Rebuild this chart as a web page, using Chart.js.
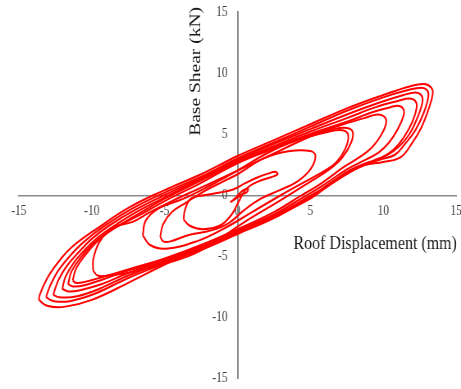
<!DOCTYPE html>
<html>
<head>
<meta charset="utf-8">
<script src="https://cdn.jsdelivr.net/npm/chart.js@4.4.0/dist/chart.umd.min.js"></script>
<style>
  html, body { margin: 0; padding: 0; background: #fff; overflow: hidden; }
  #wrap { width: 461px; height: 389px; overflow: hidden; position: relative; }
  #plot { position: absolute; left: 0; top: 0; width: 562px; height: 389px;
          transform: scaleX(0.8203); transform-origin: 0 0; }
</style>
</head>
<body>
<div id="wrap"><canvas id="plot" width="562" height="389"></canvas></div>
<script>
// Hysteresis record: roof displacement (mm) vs base shear (kN), one array per cycle.
const xTitle = 'Roof Displacement (mm)';
const yTitle = 'Base Shear (kN)';
const xTicks = [-15, -10, -5, 0, 5, 10, 15];
const yTicks = [-15, -10, -5, 0, 5, 10, 15];

const cycle01 = [[-0.5,-0.6],[-0.25,-0.35],[0.05,0.0],[0.4,0.4],[0.72,0.5],[0.65,0.25],[0.3,0.05],[0.0,-0.2],[-0.3,-0.45],[-0.5,-0.6]];

const cycle02 = [[-3.7,-2.0],[-3.6,-1.2],[-3.2,-0.3],[-2.2,0.0],[-1.2,0.2],[-0.3,0.45],[0.5,0.95],[1.4,1.45],[2.1,1.75],[2.6,1.9],[2.75,1.7],
                 [2.3,1.45],[1.4,1.1],[0.6,0.5],[0.1,-0.5],[-0.4,-1.6],[-1.2,-2.5],[-2.4,-2.8],[-3.3,-2.5],[-3.7,-2.0]];

const cycle03 = [[-5.3,-3.4],[-5.1,-2.4],[-4.5,-1.4],[-3.5,-0.6],[-2.3,0.3],[-1.0,1.1],[0.0,1.7],[1.8,3.0],[3.6,3.6],[5.0,3.6],[5.35,3.2],
                 [5.0,2.1],[4.1,1.1],[2.9,0.4],[1.6,-0.3],[0.5,-1.2],[-0.6,-2.3],[-1.8,-2.9],[-3.4,-3.3],[-4.6,-3.8],[-5.1,-3.8],[-5.3,-3.4]];

const cycle04 = [[-6.5,-3.3],[-6.3,-2.1],[-5.4,-1.1],[-3.7,-0.3],[-2.0,0.7],[0.0,2.0],[2.0,3.4],[4.1,4.5],[6.3,5.2],[7.2,5.3],[7.6,4.9],
                 [7.4,3.8],[6.8,2.7],[6.0,2.0],[4.8,1.2],[3.0,0.0],[1.0,-1.4],[-1.0,-2.8],[-2.8,-3.8],[-4.9,-4.4],[-6.0,-4.1],[-6.5,-3.3]];

const cycle05 = [[-9.9,-6.2],[-9.9,-5.3],[-9.5,-3.9],[-8.6,-2.7],[-7.2,-2.2],[-6.0,-1.4],[-4.5,-0.5],[-2.5,0.6],[0.0,2.0],[2.5,3.4],[5.0,4.8],[6.6,5.4],[7.5,5.5],[7.9,5.2],
                 [7.8,4.3],[7.2,3.1],[6.3,2.1],[5.0,1.1],[3.0,-0.4],[0.5,-2.2],[-2.6,-4.6],[-4.9,-5.6],[-7.2,-6.3],[-8.8,-6.6],[-9.6,-6.6],[-9.9,-6.2]];

const cycle06 = [[-11.3,-7.0],[-11.1,-6.1],[-10.5,-5.0],[-9.7,-3.9],[-8.8,-3.0],[-7.8,-2.3],[-6.5,-1.5],[-5.0,-0.5],[-2.5,1.0],[0.0,2.6],[2.5,3.8],[5.0,4.9],[7.0,5.7],[8.7,6.3],[9.6,6.6],[10.1,6.4],[10.2,5.9],
                 [9.9,5.0],[9.3,4.0],[8.5,3.2],[7.3,2.3],[5.8,1.0],[4.3,-0.1],[2.5,-1.4],[0.0,-2.8],[-2.5,-4.1],[-5.0,-5.2],[-7.5,-6.1],[-9.2,-6.7],[-10.4,-7.1],[-11.1,-7.2],[-11.3,-7.0]];

const cycle07 = [[-11.6,-7.2],[-11.4,-6.3],[-10.8,-5.2],[-10.0,-4.1],[-9.1,-3.2],[-8.0,-2.4],[-6.6,-1.4],[-5.0,-0.3],[-2.5,1.2],[0.0,2.7],[2.5,3.9],[5.0,5.0],[7.5,6.0],[9.3,6.8],[10.5,7.2],[11.1,7.3],[11.4,7.0],[11.4,6.5],
                 [11.0,5.4],[10.4,4.3],[9.7,3.5],[8.8,2.9],[7.5,2.1],[6.0,0.9],[4.5,-0.2],[2.5,-1.6],[0.0,-2.9],[-2.5,-4.2],[-5.0,-5.3],[-7.5,-6.2],[-9.2,-6.9],[-10.5,-7.4],[-11.3,-7.5],[-11.6,-7.3],[-11.6,-7.2]];

const cycle08 = [[-12.0,-7.6],[-11.8,-6.7],[-11.2,-5.5],[-10.4,-4.4],[-9.5,-3.4],[-8.3,-2.4],[-6.8,-1.3],[-5.0,-0.2],[-2.5,1.3],[0.0,2.8],[2.5,4.0],[5.0,5.2],[7.5,6.3],[9.5,7.2],[11.0,7.7],[11.8,7.9],[12.2,7.7],[12.3,7.2],
                 [12.0,6.0],[11.4,4.7],[10.7,3.7],[9.8,3.0],[8.8,2.6],[7.5,1.9],[5.8,0.5],[4.5,-0.4],[2.5,-1.8],[0.0,-3.0],[-2.5,-4.3],[-5.0,-5.4],[-7.5,-6.4],[-9.3,-7.3],[-10.8,-7.8],[-11.6,-7.9],[-12.0,-7.7],[-12.0,-7.6]];

const cycle09 = [[-12.6,-8.0],[-12.3,-7.0],[-11.7,-5.8],[-10.9,-4.7],[-10.0,-3.6],[-8.8,-2.5],[-7.0,-1.2],[-5.0,0.0],[-2.5,1.4],[0.0,2.9],[2.5,4.2],[5.0,5.4],[7.5,6.6],[9.8,7.6],[11.4,8.2],[12.2,8.4],[12.6,8.2],[12.7,7.7],
                 [12.4,6.5],[11.8,5.0],[11.1,4.0],[10.3,3.3],[9.3,2.8],[8.0,2.1],[6.0,0.6],[4.7,-0.4],[2.5,-1.9],[0.0,-3.2],[-2.5,-4.5],[-5.0,-5.5],[-7.5,-6.6],[-9.5,-7.7],[-11.0,-8.3],[-12.1,-8.4],[-12.6,-8.2],[-12.6,-8.0]];

const cycle10 = [[-13.1,-8.2],[-12.8,-7.3],[-12.3,-6.2],[-11.5,-5.0],[-10.6,-3.9],[-9.2,-2.6],[-7.2,-1.1],[-5.0,0.2],[-2.5,1.5],[0.0,3.0],[2.5,4.3],[5.0,5.6],[7.5,6.9],[10.0,8.0],[11.7,8.6],[12.6,8.8],[13.0,8.6],[13.1,8.1],
                 [12.8,6.8],[12.2,5.3],[11.5,4.2],[10.8,3.3],[9.8,2.9],[8.4,2.3],[6.3,0.8],[5.0,-0.3],[2.5,-1.8],[0.0,-3.1],[-2.5,-4.4],[-5.0,-5.6],[-7.5,-6.8],[-9.8,-8.1],[-11.5,-8.7],[-12.6,-8.7],[-13.1,-8.4],[-13.1,-8.2]];

const cycle11 = [[-13.6,-8.3],[-13.3,-7.4],[-12.9,-6.5],[-12.1,-5.2],[-11.3,-4.2],[-9.7,-2.8],[-7.4,-1.0],[-5.0,0.4],[-2.5,1.7],[0.0,3.2],[2.5,4.5],[5.0,5.8],[7.5,7.1],[10.0,8.2],[11.8,8.9],[12.8,9.1],[13.3,8.8],[13.4,8.3],
                 [13.1,7.0],[12.6,5.5],[12.0,4.3],[11.2,3.1],[10.0,2.7],[8.6,2.4],[6.4,1.0],[5.0,-0.2],[2.5,-1.7],[0.0,-3.0],[-2.5,-4.3],[-5.0,-5.7],[-7.5,-7.2],[-10.0,-8.6],[-11.8,-9.15],[-13.0,-9.1],[-13.6,-8.6],[-13.6,-8.3]];

const cycles = [cycle01, cycle02, cycle03, cycle04, cycle05, cycle06, cycle07, cycle08, cycle09, cycle10, cycle11];

const serif = 'Liberation Serif';

// Axis titles sit next to the crossing axes, drawn after the chart.
const axisTitles = {
  id: 'axisTitles',
  afterDraw(chart) {
    const { ctx, scales: { x, y } } = chart;
    const x0 = x.getPixelForValue(0);
    const y0 = y.getPixelForValue(0);
    ctx.save();
    ctx.font = '19.5px "' + serif + '"';
    ctx.fillStyle = '#1a1a1a';
    ctx.textBaseline = 'middle';
    ctx.textAlign = 'right';
    ctx.fillText(xTitle, x.right + 1, y0 + 48.5);
    ctx.translate(x0 - 51, y.top - 5);
    ctx.rotate(-Math.PI / 2);
    ctx.fillText(yTitle, 0, 0);
    ctx.restore();
  }
};

const axisCommon = (tickValues, pad) => ({
  type: 'linear',
  min: -15,
  max: 15,
  position: 'center',
  grid: { display: false, drawTicks: false },
  border: { display: true, color: '#8a8a8a', width: 1.6 },
  ticks: {
    autoSkip: false,
    maxRotation: 0,
    padding: pad,
    color: '#404040',
    font: { family: serif, size: 14 }
  },
  afterBuildTicks: s => { s.ticks = tickValues.map(v => ({ value: v })); }
});

// The crossing axes take no room of their own; the plot area is set by the layout padding.
const xScale = axisCommon(xTicks, 8);
xScale.afterFit = s => { s.height = 0; s.paddingLeft = 0; s.paddingRight = 0; };
const yScale = axisCommon(yTicks, 12);
yScale.afterFit = s => { s.width = 0; s.paddingTop = 0; s.paddingBottom = 0; };
yScale.border = { display: true, color: '#8a8a8a', width: 1.9 };

new Chart(document.getElementById('plot'), {
  type: 'scatter',
  data: {
    datasets: cycles.map((c, i) => ({
      label: 'Cycle ' + (i + 1),
      data: c.map(p => ({ x: p[0], y: p[1] })),
      showLine: true,
      borderColor: '#ff0000',
      borderWidth: 2,
      pointRadius: 0,
      pointHoverRadius: 0,
      tension: 0.4,
      fill: false
    }))
  },
  options: {
    responsive: false,
    animation: false,
    devicePixelRatio: 1,
    layout: { padding: { left: 23, right: 6, top: 12, bottom: 11 } },
    plugins: { legend: { display: false }, tooltip: { enabled: false } },
    scales: { x: xScale, y: yScale }
  },
  plugins: [axisTitles]
});
</script>
</body>
</html>
